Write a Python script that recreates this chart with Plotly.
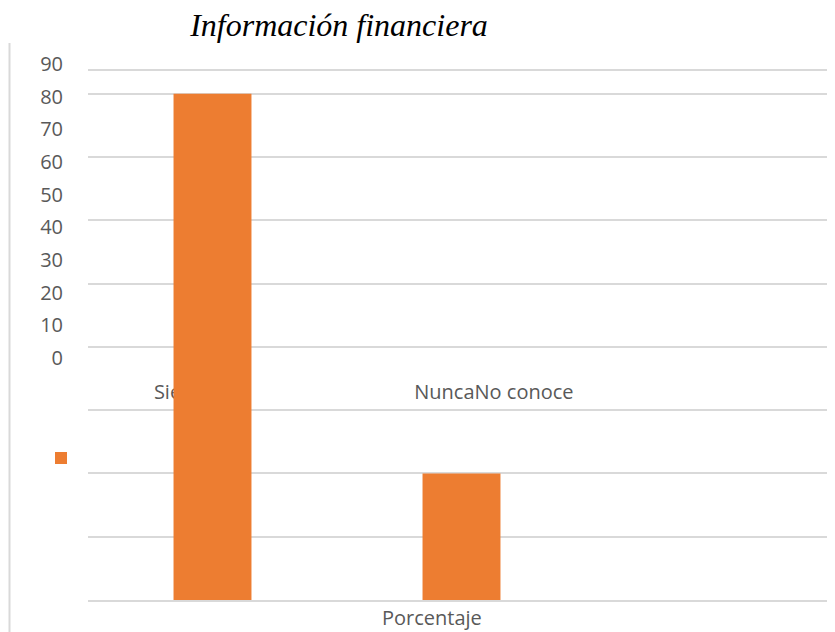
import plotly.graph_objects as go

# valores
categorias = ["Siempre", "A veces", "Nunca"]
porcentaje = [80, 20, 0]

# etiquetas desordenadas que aparecen en medio del grafico
etiquetas_serie = ["Siempre", "NuncaNo conoce"]
pos_etiquetas = [-0.08, 1.13]

ticks_y = [0, 10, 20, 30, 40, 50, 60, 70, 80, 90]

# la pagina deja 8px de margen en el body, por eso la figura es 8px menor
W, H = 827, 624
gris = "#d9d9d9"
texto = "#595959"
fuente = "Open Sans"

fig = go.Figure()
fig.add_trace(go.Bar(
    x=categorias,
    y=porcentaje,
    name="",
    marker_color="#ED7D31",
    marker_line_width=0,
    showlegend=True,
))

fig.update_layout(
    width=W, height=H,
    margin=dict(l=0, r=0, t=0, b=0),
    plot_bgcolor="rgba(0,0,0,0)",
    paper_bgcolor="white",
    bargap=0.687,
    font=dict(family=fuente, size=20, color=texto),
    xaxis=dict(
        domain=[80 / W, 1],
        type="category",
        range=[-0.5, 2.5],
        showticklabels=False,
        showgrid=False,
        showline=True, mirror=True, linecolor=gris, linewidth=1.5,
        automargin=False,
    ),
    yaxis=dict(
        domain=[(H - 592) / H, (H - 63) / H],
        range=[0, 83.6],
        dtick=10,
        showticklabels=False,
        gridcolor=gris, gridwidth=1.5,
        zeroline=False,
        automargin=False,
    ),
    yaxis2=dict(
        anchor="free",
        position=55 / W,
        side="left",
        domain=[(H - 350) / H, (H - 56) / H],
        range=[0, 90],
        tickvals=ticks_y,
        showgrid=False, zeroline=False, showline=False,
        tickfont=dict(family=fuente, size=20, color=texto),
        automargin=False,
    ),
    xaxis2=dict(
        overlaying="x",
        anchor="free",
        position=(H - 370) / H,
        range=[-0.5, 2.5],
        tickvals=pos_etiquetas,
        ticktext=etiquetas_serie,
        showgrid=False, zeroline=False, showline=False,
        layer="below traces",
        tickfont=dict(family=fuente, size=20, color=texto),
        automargin=False,
    ),
    legend=dict(
        x=33 / W, xanchor="left",
        y=1 - 450 / H, yanchor="middle",
        bgcolor="rgba(0,0,0,0)",
    ),
    title=dict(
        text="<i>Información financiera</i>",
        font=dict(family="Liberation Serif", size=32, color="black"),
        x=331 / W, xanchor="center",
        y=1 - 17 / H, yanchor="middle",
    ),
)

# trazas vacias para que se dibujen los ejes secundarios
fig.add_trace(go.Scatter(x=[], y=[], xaxis="x2", yaxis="y", showlegend=False))
fig.add_trace(go.Scatter(x=[], y=[], xaxis="x", yaxis="y2", showlegend=False))

fig.add_annotation(
    text="Porcentaje", xref="paper", yref="paper",
    x=424 / W, y=1 - 609 / H, xanchor="center", yanchor="middle",
    showarrow=False, font=dict(family=fuente, size=20, color=texto),
)

# borde izquierdo del area del grafico
fig.add_shape(type="line", xref="paper", yref="paper",
              x0=1.5 / W, x1=1.5 / W, y0=0, y1=1 - 35 / H,
              line=dict(color=gris, width=2))

fig.write_html("out.html")
